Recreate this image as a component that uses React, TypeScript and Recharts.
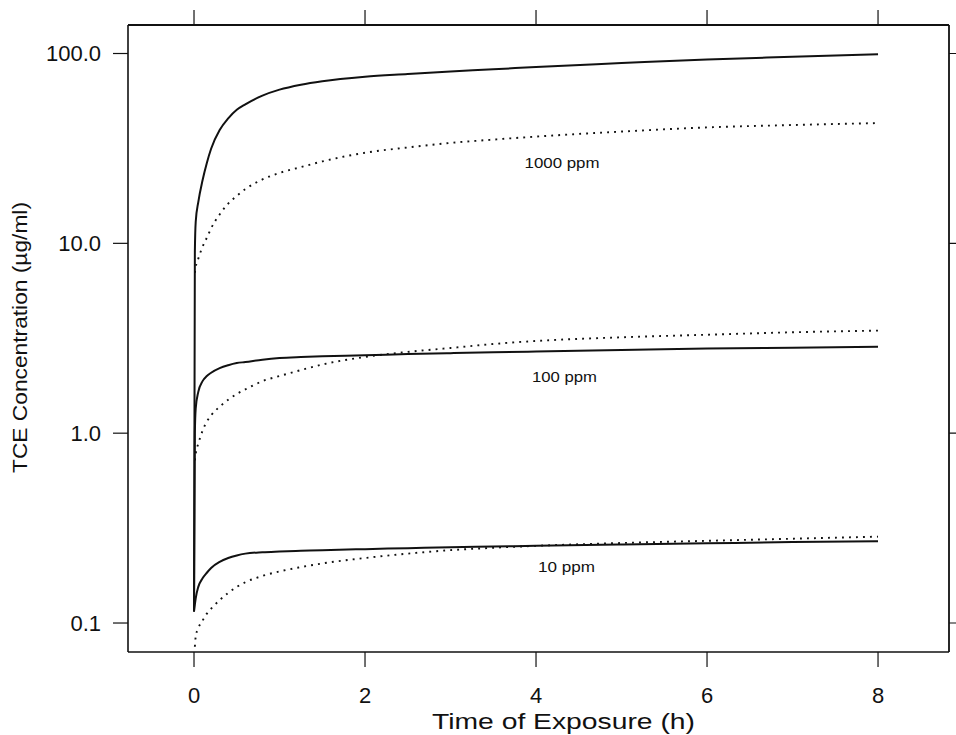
import React from "react";
import { LineChart, Line, XAxis, YAxis, ReferenceLine, CartesianGrid } from "recharts";

// Time of exposure (h)
const times = [0, 0.01, 0.02, 0.05, 0.1, 0.15, 0.2, 0.3, 0.4, 0.5, 0.6, 0.8, 1.0, 1.25, 1.5, 2, 2.5, 3, 3.5, 4, 5, 6, 7, 8];

// 1000 ppm
const solid1000 = [0.115, 9, 13, 16.5, 21.5, 26.5, 31.5, 39.5, 45.5, 50.5, 54, 60, 64.5, 68.5, 71.5, 75.5, 78, 80.5, 82.5, 85, 89, 93, 96, 99];
const dotted1000 = [null, 7.0, 7.5, 8.3, 9.6, 10.7, 12, 14.2, 16.2, 17.8, 19.3, 21.7, 23.5, 25.2, 27, 30, 32, 33.8, 35.2, 36.5, 38.8, 40.8, 42, 43];

// 100 ppm
const solid100 = [0.115, 1.0, 1.35, 1.65, 1.88, 2.0, 2.08, 2.2, 2.28, 2.34, 2.37, 2.44, 2.49, 2.52, 2.54, 2.57, 2.61, 2.64, 2.67, 2.69, 2.74, 2.79, 2.82, 2.85];
const dotted100 = [null, 0.72, 0.78, 0.88, 1.03, 1.15, 1.24, 1.38, 1.5, 1.61, 1.7, 1.88, 2.0, 2.15, 2.3, 2.52, 2.68, 2.81, 2.95, 3.06, 3.2, 3.3, 3.4, 3.47];

// 10 ppm
const solid10 = [0.115, 0.125, 0.135, 0.155, 0.172, 0.184, 0.195, 0.21, 0.22, 0.227, 0.232, 0.236, 0.238, 0.24, 0.242, 0.245, 0.248, 0.251, 0.253, 0.255, 0.259, 0.263, 0.267, 0.27];
const dotted10 = [null, 0.075, 0.085, 0.094, 0.103, 0.112, 0.119, 0.132, 0.144, 0.155, 0.164, 0.177, 0.187, 0.197, 0.206, 0.22, 0.232, 0.242, 0.249, 0.255, 0.264, 0.271, 0.278, 0.285];

const xTicks = [0, 2, 4, 6, 8];
const yTicks = [0.1, 1, 10, 100];
const seriesLabels = ["1000 ppm", "100 ppm", "10 ppm"];
const xTitle = "Time of Exposure (h)";
const yTitle = "TCE Concentration (\u00b5g/ml)";

const rows = times.map((t, i) => ({
  t,
  s1000: solid1000[i],
  d1000: dotted1000[i],
  s100: solid100[i],
  d100: dotted100[i],
  s10: solid10[i],
  d10: dotted10[i],
}));

const FONT = "'Liberation Sans', Arial, Helvetica, sans-serif";
const INK = "#111";
const xDomain: [number, number] = [-0.772, 8.83];
const yDomain: [number, number] = [0.07036, 141.3];
// outward tick ends for the top and right frame sides
const topTickEnd = Math.pow(10, Math.log10(yDomain[1]) + 15 / 189.83);
const rightTickEnd = xDomain[1] + 12 / 85.5;

export default function App() {
  const W = 948;
  const H = 727;
  const solidProps = { stroke: INK, strokeWidth: 2, dot: false, isAnimationActive: false, type: "monotone" as const, xAxisId: "b", yAxisId: "l" };
  const dotProps = { stroke: INK, strokeWidth: 1.9, strokeDasharray: "1.9 5.1", dot: false, isAnimationActive: false, type: "monotone" as const, xAxisId: "b", yAxisId: "l" };
  return (
    <div style={{ position: "absolute", left: 8, top: 8, width: W, height: H, background: "#fff", overflow: "hidden" }}>
      <LineChart width={W} height={H} data={rows} margin={{ top: 17, right: 7, bottom: 0, left: 0 }}>
        <CartesianGrid
          xAxisId="b"
          yAxisId="l"
          horizontalCoordinatesGenerator={(p: any) => [p.offset.top]}
          verticalCoordinatesGenerator={(p: any) => [p.offset.left + p.offset.width]}
          stroke={INK}
          strokeWidth={1.8}
          strokeOpacity={1}
          fill="none"
        />
        <XAxis
          xAxisId="b"
          dataKey="t"
          type="number"
          domain={xDomain}
          allowDataOverflow
          ticks={xTicks}
          height={83}
          tickSize={15}
          tickMargin={20}
          stroke={INK}
          axisLine={{ stroke: INK, strokeWidth: 1.6 }}
          tickLine={{ stroke: INK, strokeWidth: 1.2 }}
          tick={{ fontSize: 22, fill: INK, fontFamily: FONT }}
        />
        <YAxis
          yAxisId="l"
          type="number"
          scale="log"
          domain={yDomain}
          allowDataOverflow
          ticks={yTicks}
          width={120}
          tickSize={15}
          tickMargin={12}
          tickFormatter={(v: number) => v.toFixed(1)}
          stroke={INK}
          axisLine={{ stroke: INK, strokeWidth: 1.6 }}
          tickLine={{ stroke: INK, strokeWidth: 1.2 }}
          tick={{ fontSize: 22, fill: INK, fontFamily: FONT }}
        />
        {xTicks.map((v) => (
          <ReferenceLine
            key={"tx" + v}
            xAxisId="b"
            yAxisId="l"
            segment={[{ x: v, y: yDomain[1] }, { x: v, y: topTickEnd }]}
            stroke={INK}
            strokeWidth={1.2}
            ifOverflow="visible"
          />
        ))}
        {yTicks.map((v) => (
          <ReferenceLine
            key={"ry" + v}
            xAxisId="b"
            yAxisId="l"
            segment={[{ x: 8, y: v }, { x: rightTickEnd, y: v }]}
            stroke={INK}
            strokeWidth={1.2}
            strokeDasharray={`0 ${((xDomain[1] - 8) * 85.5).toFixed(1)} 20`}
            ifOverflow="visible"
          />
        ))}
        <Line dataKey="d1000" {...dotProps} />
        <Line dataKey="d100" {...dotProps} />
        <Line dataKey="d10" {...dotProps} />
        <Line dataKey="s1000" {...solidProps} />
        <Line dataKey="s100" {...solidProps} />
        <Line dataKey="s10" {...solidProps} />
      </LineChart>
      <svg width={W} height={H} style={{ position: "absolute", left: 0, top: 0, pointerEvents: "none" }}>
        <g fontFamily={FONT} fill={INK}>
          <text x={554} y={160} fontSize={14} textAnchor="middle" textLength={75} lengthAdjust="spacingAndGlyphs">{seriesLabels[0]}</text>
          <text x={556.5} y={374.3} fontSize={14} textAnchor="middle" textLength={65} lengthAdjust="spacingAndGlyphs">{seriesLabels[1]}</text>
          <text x={558.5} y={564.3} fontSize={14} textAnchor="middle" textLength={57} lengthAdjust="spacingAndGlyphs">{seriesLabels[2]}</text>
          <text x={555.5} y={721} fontSize={22} textAnchor="middle" textLength={263} lengthAdjust="spacingAndGlyphs">{xTitle}</text>
          <text x={19.3} y={329.5} fontSize={21} textAnchor="middle" textLength={271} lengthAdjust="spacingAndGlyphs" transform="rotate(-90 19.3 329.5)">{yTitle}</text>
        </g>
      </svg>
    </div>
  );
}
